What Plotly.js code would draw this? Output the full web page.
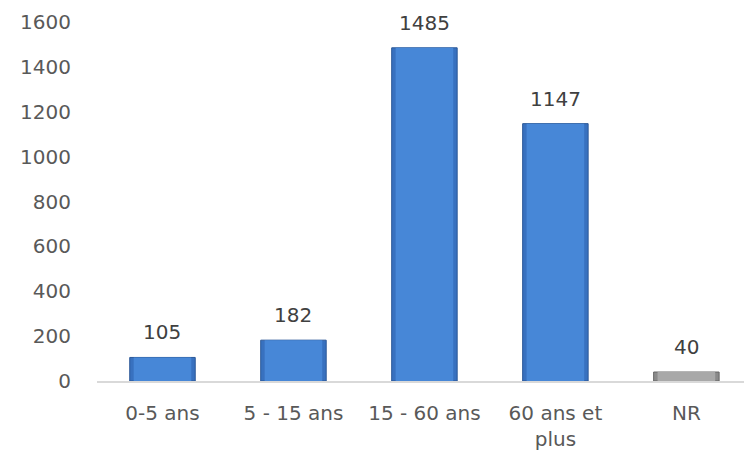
<!DOCTYPE html>
<html><head><meta charset="utf-8">
<script src="https://cdn.plot.ly/plotly-3.0.1.min.js"></script>
<style>html,body{margin:0;padding:0;background:#fff}</style>
</head><body>
<div id="chart" style="width:744px;height:455px"></div>
<script>
const categories = ["0-5 ans", "5 - 15 ans", "15 - 60 ans", "60 ans et<br>plus", "NR"];
const values = [105, 182, 1485, 1147, 40];
const edgeColors = ["#3871bf", "#3871bf", "#3871bf", "#3871bf", "#8a8a8a"];
const faceColors = ["#4787d7", "#4787d7", "#4787d7", "#4787d7", "#a8a8a8"];
const lineColors = ["#2a5797", "#2a5797", "#2a5797", "#2a5797", "#666666"];
const yTicks = [0, 200, 400, 600, 800, 1000, 1200, 1400, 1600];

const FONT = "DejaVu Sans, sans-serif";
const idx = categories.map((c, i) => i);

const outer = {
  type: "bar", x: idx, y: values, width: 0.5,
  marker: {color: edgeColors, line: {color: lineColors, width: 1}},
  hoverinfo: "skip"
};
const inner = {
  type: "bar", x: idx, y: values, width: 0.44,
  marker: {color: faceColors, line: {width: 0}},
  hoverinfo: "skip"
};

const annotations = values.map((v, i) => ({
  x: i, y: v, xref: "x", yref: "y",
  text: String(v), showarrow: false,
  yanchor: "middle", yshift: 25,
  font: {family: FONT, size: 20, color: "#404040"}
}));

const layout = {
  width: 744, height: 455,
  margin: {l: 97, r: 0, t: 22, b: 74},
  paper_bgcolor: "#fff", plot_bgcolor: "#fff",
  showlegend: false, barmode: "overlay",
  font: {family: FONT, size: 20, color: "#595959"},
  annotations: annotations,
  xaxis: {
    range: [-0.5, 4.44],
    tickvals: idx,
    ticktext: categories,
    showline: true, linecolor: "#d9d9d9", linewidth: 1.5,
    showgrid: false, zeroline: false,
    ticks: "outside", ticklen: 13, tickcolor: "rgba(0,0,0,0)",
    tickfont: {family: FONT, size: 20, color: "#595959"}
  },
  yaxis: {
    range: [0, 1600],
    tickvals: yTicks,
    showgrid: false, zeroline: false, showline: false,
    ticks: "outside", ticklen: 21, tickcolor: "rgba(0,0,0,0)",
    tickfont: {family: FONT, size: 20, color: "#595959"}
  }
};

Plotly.newPlot("chart", [outer, inner], layout, {displayModeBar: false, staticPlot: true});
</script>
</body></html>
